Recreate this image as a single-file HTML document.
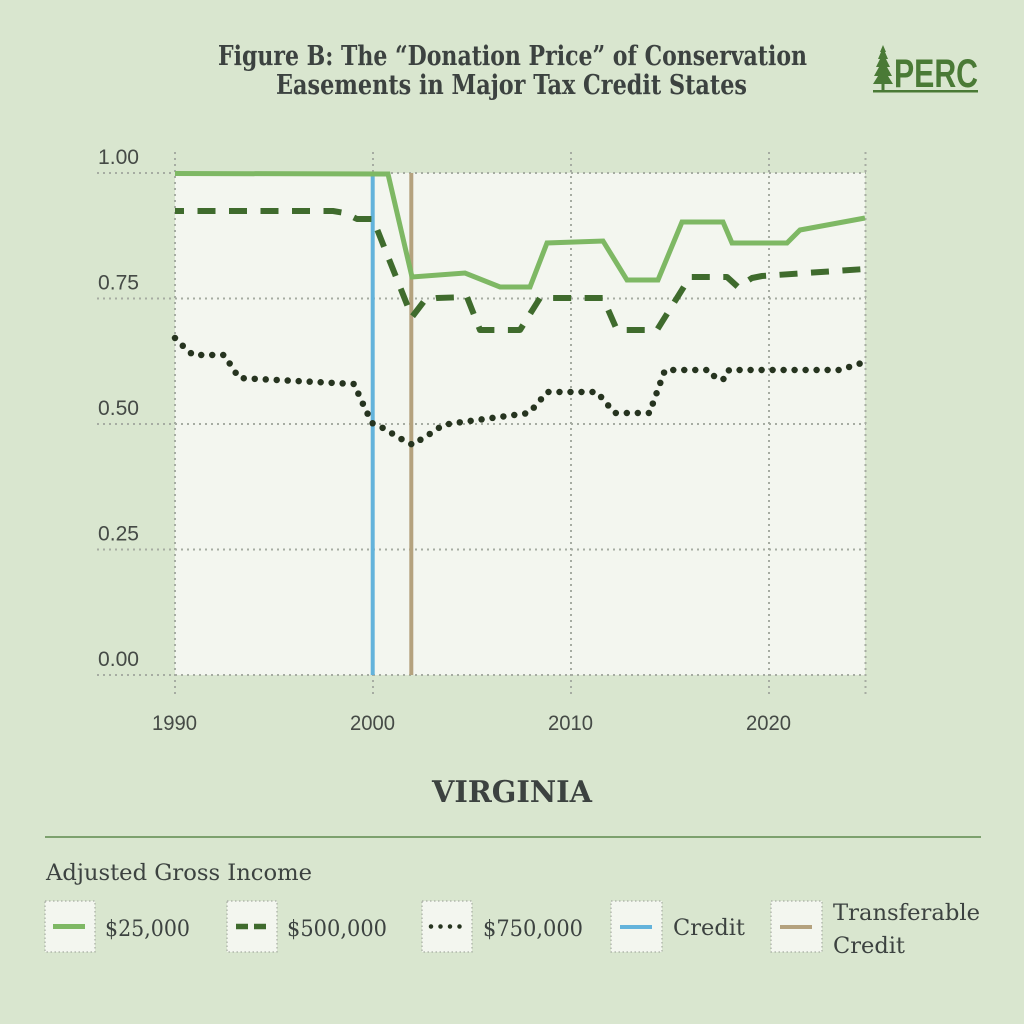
<!DOCTYPE html>
<html>
<head>
<meta charset="utf-8">
<style>
  html, body { margin:0; padding:0; background:#d9e6cf; }
  svg { display:block; }
  .tick { font-family:"Liberation Sans", sans-serif; font-size:21px; fill:#454a46; }
  .ser { font-family:"DejaVu Serif", "Liberation Serif", serif; fill:#3c4240; }
</style>
</head>
<body>
<svg width="1024" height="1024" viewBox="0 0 1024 1024" xmlns="http://www.w3.org/2000/svg">
  <rect x="0" y="0" width="1024" height="1024" fill="#d9e6cf"/>

  <!-- Title -->
  <text class="ser" x="218" y="65" font-size="27" font-weight="bold" style="font-stretch:condensed" textLength="589" lengthAdjust="spacingAndGlyphs">Figure B: The “Donation Price” of Conservation</text>
  <text class="ser" x="276" y="94" font-size="27" font-weight="bold" style="font-stretch:condensed" textLength="471" lengthAdjust="spacingAndGlyphs">Easements in Major Tax Credit States</text>

  <!-- PERC logo -->
  <g fill="#4a7a36">
    <polygon points="883,45 886,52 885,52 888,59 886,59 890,67 887,67 892,76 888,76 893,84 884.5,84 884.5,90 881.5,90 881.5,84 873,84 878,76 874,76 879,67 876,67 880,59 878,59 881,52 880,52"/>
    <text x="894" y="87" font-family="'Liberation Sans Narrow','Liberation Sans',sans-serif" font-weight="bold" font-size="40" textLength="84" lengthAdjust="spacingAndGlyphs">PERC</text>
    <rect x="873" y="90" width="105" height="2.5"/>
  </g>

  <!-- Plot background -->
  <rect x="175" y="173" width="690" height="502" fill="#f3f6ef"/>

  <!-- Grid lines -->
  <g stroke="#a6aca2" stroke-width="2" stroke-dasharray="2 4" fill="none">
    <line x1="97" y1="173" x2="866" y2="173"/>
    <line x1="97" y1="298.5" x2="866" y2="298.5"/>
    <line x1="97" y1="424" x2="866" y2="424"/>
    <line x1="97" y1="549.5" x2="866" y2="549.5"/>
    <line x1="97" y1="675" x2="866" y2="675"/>
    <line x1="175" y1="152" x2="175" y2="697"/>
    <line x1="373" y1="152" x2="373" y2="697"/>
    <line x1="571" y1="152" x2="571" y2="697"/>
    <line x1="769" y1="152" x2="769" y2="697"/>
    <line x1="865.5" y1="152" x2="865.5" y2="697"/>
  </g>

  <!-- Y tick labels -->
  <text class="tick" x="98" y="164" textLength="41" lengthAdjust="spacingAndGlyphs">1.00</text>
  <text class="tick" x="98" y="289.5" textLength="41" lengthAdjust="spacingAndGlyphs">0.75</text>
  <text class="tick" x="98" y="415" textLength="41" lengthAdjust="spacingAndGlyphs">0.50</text>
  <text class="tick" x="98" y="540.5" textLength="41" lengthAdjust="spacingAndGlyphs">0.25</text>
  <text class="tick" x="98" y="666" textLength="41" lengthAdjust="spacingAndGlyphs">0.00</text>

  <!-- X tick labels -->
  <text class="tick" x="152" y="730" textLength="45" lengthAdjust="spacingAndGlyphs">1990</text>
  <text class="tick" x="350" y="730" textLength="45" lengthAdjust="spacingAndGlyphs">2000</text>
  <text class="tick" x="548" y="730" textLength="45" lengthAdjust="spacingAndGlyphs">2010</text>
  <text class="tick" x="746" y="730" textLength="45" lengthAdjust="spacingAndGlyphs">2020</text>

  <!-- Vertical event lines -->
  <line x1="372.7" y1="173" x2="372.7" y2="675" stroke="#63b3db" stroke-width="4"/>
  <line x1="411.3" y1="173" x2="411.3" y2="675" stroke="#b4a27e" stroke-width="4"/>

  <!-- $750,000 dotted -->
  <polyline fill="none" stroke="#26341f" stroke-width="6.5" stroke-linecap="round" stroke-linejoin="round" stroke-dasharray="0 11"
    points="175,338 184,347 193,355 224,355 232,367 239,378 354,384 363,404 372,423 383,428 393,434 403,440 413,445 423,438 433,432 443,425 455,423 529,413 538,403 547,392 597,392 606,403 615,413 650,413 653,403 657,392 661,381 665,370 710,370 716,379 725,379 729,370 840,370 852,366 865,362"/>

  <!-- $500,000 dashed -->
  <polyline fill="none" stroke="#3f6b2d" stroke-width="6" stroke-linejoin="round" stroke-dasharray="18 13.5" stroke-dashoffset="9"
    points="175,211 333,211 345,213 357,219 373,219 412,317 425,300 437,298 467,297 480,330 520,330 540,298 603,298 617,330 657,330 690,277 727,277 738,287 752,278 762,276 865,269"/>

  <!-- $25,000 solid -->
  <polyline fill="none" stroke="#7eb864" stroke-width="5" stroke-linejoin="miter"
    points="175,173.5 388,174 412,277 465,273 500,287 530,287 547,243 603,241 627,280 658,280 682,222 723,222 732,243 787,243 800,230 865,218"/>

  <!-- State label -->
  <text class="ser" x="432" y="802" font-size="30" font-weight="bold" textLength="160" lengthAdjust="spacingAndGlyphs">VIRGINIA</text>

  <!-- Divider -->
  <line x1="45" y1="837" x2="981" y2="837" stroke="#5f8a4f" stroke-width="1.5"/>

  <!-- Legend -->
  <text class="ser" x="46" y="880" font-size="22" textLength="266" lengthAdjust="spacingAndGlyphs">Adjusted Gross Income</text>

  <g fill="#f3f6ef" stroke="#a6aca2" stroke-width="1.2" stroke-dasharray="1.5 2.5">
    <rect x="45" y="901" width="50" height="51"/>
    <rect x="227" y="901" width="50" height="51"/>
    <rect x="422" y="901" width="50" height="51"/>
    <rect x="611" y="901" width="51" height="51"/>
    <rect x="771" y="901" width="51" height="51"/>
  </g>

  <line x1="53" y1="926.5" x2="85" y2="926.5" stroke="#7eb864" stroke-width="5"/>
  <line x1="236" y1="926.5" x2="268" y2="926.5" stroke="#3f6b2d" stroke-width="5.5" stroke-dasharray="12 6"/>
  <line x1="431" y1="926.5" x2="461" y2="926.5" stroke="#26341f" stroke-width="4.5" stroke-linecap="round" stroke-dasharray="0 9.5"/>
  <line x1="620" y1="927" x2="652" y2="927" stroke="#63b3db" stroke-width="4"/>
  <line x1="780" y1="927" x2="812" y2="927" stroke="#b4a27e" stroke-width="4"/>

  <text class="ser" x="105" y="936" font-size="22" textLength="85" lengthAdjust="spacingAndGlyphs">$25,000</text>
  <text class="ser" x="287" y="936" font-size="22" textLength="100" lengthAdjust="spacingAndGlyphs">$500,000</text>
  <text class="ser" x="483" y="936" font-size="22" textLength="100" lengthAdjust="spacingAndGlyphs">$750,000</text>
  <text class="ser" x="673" y="935" font-size="22" textLength="72" lengthAdjust="spacingAndGlyphs">Credit</text>
  <text class="ser" x="833" y="920" font-size="22" textLength="147" lengthAdjust="spacingAndGlyphs">Transferable</text>
  <text class="ser" x="833" y="953" font-size="22" textLength="72" lengthAdjust="spacingAndGlyphs">Credit</text>
</svg>
</body>
</html>
